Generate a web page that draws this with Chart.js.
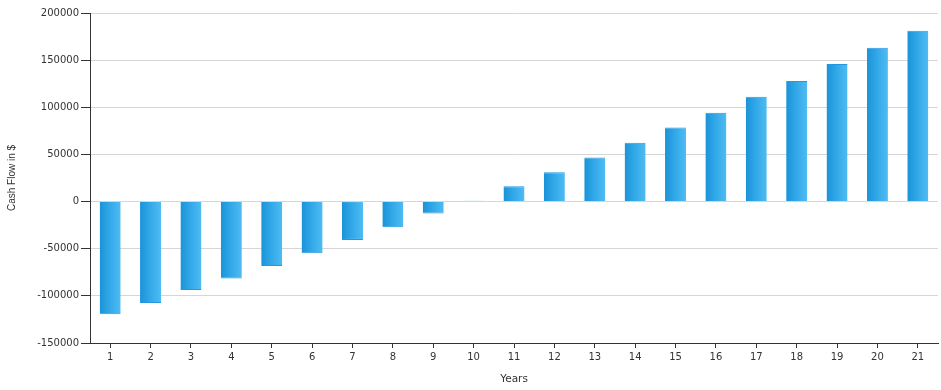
<!DOCTYPE html>
<html>
<head>
<meta charset="utf-8">
<script src="https://cdn.jsdelivr.net/npm/chart.js@4/dist/chart.umd.min.js"></script>
<style>
  html, body { margin: 0; padding: 0; background: #fff; }
  #wrap { width: 941px; height: 390px; position: relative; }
</style>
</head>
<body>
<div id="wrap"><canvas id="c" width="941" height="390"></canvas></div>
<script>
const years = ['1','2','3','4','5','6','7','8','9','10','11','12','13','14','15','16','17','18','19','20','21'];
const cashFlow = [-119500, -107500, -93800, -81700, -68300, -54800, -40700, -27200, -12700, 1000,
                  16300, 31200, 46700, 62300, 78600, 94200, 111100, 127800, 145800, 163200, 181200];
const yTicks = [200000, 150000, 100000, 50000, 0, -50000, -100000, -150000];

const BAR_PCT = 0.52;

function barGradient(ctx) {
  const chart = ctx.chart;
  const area = chart.chartArea;
  if (!area) return '#33a8e8';
  const xs = chart.scales.x;
  const cx = xs.getPixelForValue(ctx.dataIndex);
  const w = (xs.width / years.length) * BAR_PCT;
  const g = chart.ctx.createLinearGradient(cx - w / 2, 0, cx + w / 2, 0);
  g.addColorStop(0, '#1a93d8');
  g.addColorStop(0.5, '#33a9e9');
  g.addColorStop(1, '#4fbcf2');
  return g;
}

new Chart(document.getElementById('c'), {
  type: 'bar',
  data: {
    labels: years,
    datasets: [{
      data: cashFlow,
      backgroundColor: barGradient,
      borderColor: '#2398de',
      borderWidth: { top: 1, bottom: 1, left: 0, right: 0 },
      borderSkipped: 'start',
      barPercentage: BAR_PCT,
      categoryPercentage: 1.0
    }]
  },
  options: {
    responsive: false,
    animation: false,
    layout: { padding: { top: 13, right: 3, left: 0, bottom: 0 } },
    plugins: { legend: { display: false }, tooltip: { enabled: false } },
    scales: {
      x: {
        offset: true,
        grid: { offset: false, drawOnChartArea: false, drawTicks: true, tickLength: 5, tickColor: '#333', tickWidth: 1 },
        border: { color: '#333', width: 1 },
        ticks: { color: '#333', font: { family: 'DejaVu Sans', size: 10 }, padding: 3, maxRotation: 0, autoSkip: false },
        title: { display: true, text: 'Years', color: '#333', font: { family: 'DejaVu Sans', size: 10.5 }, padding: { top: 4, bottom: 4 } },
        afterFit(scale) { scale.height = 47; }
      },
      y: {
        min: -150000,
        max: 200000,
        afterBuildTicks(scale) { scale.ticks = yTicks.map(v => ({ value: v })); },
        grid: { color: '#d6d6d6', lineWidth: 1, drawTicks: true, tickLength: 9, tickColor: '#333' },
        border: { color: '#333', width: 1 },
        ticks: { color: '#333', font: { family: 'DejaVu Sans', size: 10 }, padding: 2, callback: v => String(v) },
        title: { display: true, text: 'Cash Flow in $', color: '#333', font: { family: "'Liberation Sans Narrow', 'Liberation Sans'", size: 10 }, padding: { top: 6, bottom: 2 } },
        afterFit(scale) { scale.width = 90; }
      }
    }
  }
});
</script>
</body>
</html>
